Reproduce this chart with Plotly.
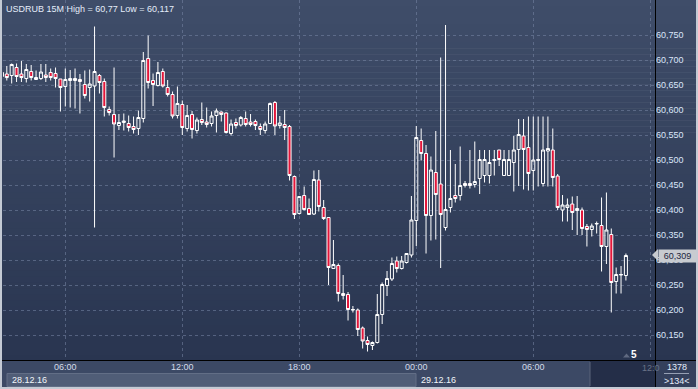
import plotly.graph_objects as go
import pandas as pd

# ---------------- data ----------------
times = pd.date_range("2016-12-28 02:45", periods=129, freq="15min")

opens = [60.675, 60.672, 60.669, 60.685, 60.672, 60.663, 60.677, 60.661, 60.663, 60.670,
         60.675, 60.673, 60.662, 60.647, 60.659, 60.659, 60.661, 60.651, 60.645, 60.648,
         60.669, 60.657, 60.601, 60.591, 60.569, 60.575, 60.573, 60.567, 60.563, 60.583,
         60.703, 60.659, 60.649, 60.677, 60.645, 60.631, 60.589, 60.611, 60.563, 60.591,
         60.559, 60.581, 60.576, 60.573, 60.589, 60.596, 60.594, 60.553, 60.575, 60.570,
         60.583, 60.576, 60.577, 60.567, 60.559, 60.573, 60.615, 60.569, 60.571, 60.567,
         60.467, 60.393, 60.429, 60.403, 60.392, 60.460, 60.405, 60.385, 60.283, 60.289,
         60.233, 60.231, 60.200, 60.200, 60.164, 60.139, 60.129, 60.135, 60.191, 60.249,
         60.262, 60.298, 60.283, 60.295, 60.310, 60.379, 60.539, 60.513, 60.389, 60.475,
         60.452, 60.365, 60.405, 60.429, 60.429, 60.453, 60.453, 60.451, 60.463, 60.469,
         60.469, 60.499, 60.520, 60.469, 60.469, 60.495, 60.521, 60.548, 60.525, 60.479,
         60.499, 60.453, 60.518, 60.520, 60.468, 60.400, 60.405, 60.412, 60.399, 60.400,
         60.367, 60.361, 60.372, 60.369, 60.327, 60.351, 60.257, 60.270, 60.269]
highs = [60.679, 60.688, 60.693, 60.693, 60.698, 60.692, 60.690, 60.679, 60.692, 60.692,
         60.683, 60.685, 60.662, 60.683, 60.680, 60.683, 60.672, 60.679, 60.681, 60.767,
         60.672, 60.663, 60.607, 60.685, 60.592, 60.593, 60.589, 60.587, 60.599, 60.716,
         60.749, 60.673, 60.696, 60.683, 60.660, 60.637, 60.647, 60.619, 60.610, 60.598,
         60.585, 60.615, 60.605, 60.597, 60.603, 60.597, 60.595, 60.581, 60.583, 60.588,
         60.597, 60.592, 60.581, 60.573, 60.577, 60.615, 60.618, 60.588, 60.600, 60.570,
         60.469, 60.427, 60.447, 60.423, 60.479, 60.480, 60.420, 60.385, 60.340, 60.293,
         60.270, 60.236, 60.208, 60.203, 60.167, 60.147, 60.137, 60.232, 60.255, 60.278,
         60.305, 60.307, 60.308, 60.313, 60.428, 60.568, 60.563, 60.530, 60.507, 60.558,
         60.705, 60.770, 60.520, 60.492, 60.527, 60.458, 60.520, 60.537, 60.520, 60.520,
         60.520, 60.520, 60.520, 60.520, 60.520, 60.548, 60.582, 60.582, 60.587, 60.587,
         60.587, 60.587, 60.587, 60.563, 60.472, 60.430, 60.423, 60.427, 60.428, 60.405,
         60.372, 60.373, 60.377, 60.425, 60.435, 60.363, 60.285, 60.288, 60.313]
lows = [60.664, 60.659, 60.653, 60.656, 60.656, 60.655, 60.659, 60.660, 60.660, 60.656,
        60.659, 60.645, 60.597, 60.607, 60.605, 60.603, 60.593, 60.623, 60.617, 60.365,
        60.633, 60.587, 60.589, 60.505, 60.560, 60.559, 60.557, 60.553, 60.550, 60.575,
        60.643, 60.608, 60.647, 60.645, 60.627, 60.583, 60.583, 60.550, 60.557, 60.543,
        60.553, 60.570, 60.565, 60.567, 60.555, 60.577, 60.553, 60.549, 60.563, 60.567,
        60.567, 60.567, 60.560, 60.550, 60.553, 60.572, 60.550, 60.563, 60.540, 60.459,
        60.382, 60.391, 60.399, 60.390, 60.390, 60.397, 60.380, 60.250, 60.283, 60.217,
        60.221, 60.179, 60.195, 60.148, 60.123, 60.117, 60.120, 60.133, 60.172, 60.228,
        60.258, 60.275, 60.281, 60.293, 60.305, 60.328, 60.499, 60.313, 60.339, 60.341,
        60.284, 60.359, 60.395, 60.415, 60.419, 60.445, 60.443, 60.445, 60.432, 60.455,
        60.453, 60.469, 60.488, 60.469, 60.469, 60.437, 60.448, 60.441, 60.439, 60.439,
        60.447, 60.447, 60.447, 60.447, 60.400, 60.377, 60.377, 60.360, 60.350, 60.350,
        60.327, 60.347, 60.353, 60.277, 60.292, 60.195, 60.233, 60.233, 60.259]
closes = [60.667, 60.665, 60.691, 60.667, 60.665, 60.681, 60.665, 60.665, 60.676, 60.665,
          60.665, 60.663, 60.645, 60.661, 60.663, 60.663, 60.657, 60.629, 60.652, 60.677,
          60.655, 60.605, 60.595, 60.572, 60.575, 60.578, 60.565, 60.561, 60.585, 60.699,
          60.655, 60.651, 60.675, 60.648, 60.631, 60.588, 60.613, 60.565, 60.589, 60.561,
          60.580, 60.575, 60.571, 60.588, 60.598, 60.591, 60.555, 60.572, 60.569, 60.585,
          60.571, 60.571, 60.569, 60.561, 60.572, 60.613, 60.568, 60.574, 60.565, 60.469,
          60.391, 60.427, 60.401, 60.391, 60.461, 60.407, 60.383, 60.285, 60.291, 60.233,
          60.229, 60.201, 60.201, 60.161, 60.138, 60.131, 60.135, 60.191, 60.251, 60.263,
          60.293, 60.283, 60.298, 60.313, 60.380, 60.545, 60.513, 60.389, 60.480, 60.431,
          60.391, 60.401, 60.423, 60.423, 60.449, 60.449, 60.449, 60.457, 60.501, 60.501,
          60.495, 60.501, 60.501, 60.501, 60.501, 60.520, 60.551, 60.521, 60.473, 60.500,
          60.501, 60.520, 60.523, 60.465, 60.405, 60.410, 60.410, 60.395, 60.403, 60.363,
          60.361, 60.368, 60.373, 60.327, 60.360, 60.255, 60.271, 60.271, 60.309]

price_ticks = [60.15, 60.20, 60.25, 60.30, 60.35, 60.40, 60.45, 60.50, 60.55, 60.60, 60.65, 60.70, 60.75]
time_ticks = ["2016-12-28 06:00", "2016-12-28 12:00", "2016-12-28 18:00",
              "2016-12-29 00:00", "2016-12-29 06:00", "2016-12-29 12:00"]
time_labels = ["06:00", "12:00", "18:00", "00:00", "06:00", ""]
title_text = "USDRUB 15M High = 60,77 Low = 60,117"
last_price = 60.309

# ---------------- layout helpers ----------------
W, H = 698, 389
L, R, T, B = 3, 655, 0, 360


def fx(p):
    return (p - L) / (R - L)


def fy(p):
    return (B - p) / (B - T)


FONT = "Liberation Sans, Arial, sans-serif"
shapes = []

# gradient background (plot + right strip)
N = 60
c0 = (63, 77, 105)
c1 = (41, 53, 80)
for i in range(N):
    y0 = i * 361 / N
    y1 = (i + 1) * 361 / N + 0.5
    t = (i + 0.5) / N
    col = tuple(round(c0[k] + (c1[k] - c0[k]) * t) for k in range(3))
    shapes.append(dict(type="rect", xref="paper", yref="paper", layer="below",
                       x0=fx(2), x1=fx(696), y0=fy(y0), y1=fy(y1),
                       fillcolor="rgb(%d,%d,%d)" % col, line=dict(width=0)))
# bottom strip
shapes.append(dict(type="rect", xref="paper", yref="paper", layer="below",
                   x0=fx(2), x1=fx(656), y0=fy(361), y1=fy(387),
                   fillcolor="rgb(60,73,101)", line=dict(width=0)))
shapes.append(dict(type="rect", xref="paper", yref="paper", layer="below",
                   x0=fx(7), x1=fx(416), y0=fy(373.5), y1=fy(386.5),
                   fillcolor="rgb(80,93,119)", line=dict(color="rgb(98,110,134)", width=1)))
shapes.append(dict(type="rect", xref="paper", yref="paper", layer="below",
                   x0=fx(590), x1=fx(655), y0=fy(361), y1=fy(387),
                   fillcolor="rgb(36,46,72)", line=dict(width=0)))
shapes.append(dict(type="line", xref="paper", yref="paper", layer="below",
                   x0=fx(590), x1=fx(590), y0=fy(362), y1=fy(386),
                   line=dict(color="rgb(90,100,122)", width=1)))
# right bottom box
shapes.append(dict(type="rect", xref="paper", yref="paper", layer="below",
                   x0=fx(656), x1=fx(696), y0=fy(361), y1=fy(387),
                   fillcolor="rgb(52,64,92)", line=dict(width=0)))
shapes.append(dict(type="line", xref="paper", yref="paper",
                   x0=fx(664), x1=fx(689), y0=fy(373.5), y1=fy(373.5),
                   line=dict(color="rgb(150,160,180)", width=1)))
# black frame lines
shapes.append(dict(type="line", xref="paper", yref="paper",
                   x0=fx(655.5), x1=fx(655.5), y0=fy(0), y1=fy(387),
                   line=dict(color="black", width=1)))
shapes.append(dict(type="line", xref="paper", yref="paper",
                   x0=fx(2), x1=fx(696), y0=fy(360.5), y1=fy(360.5),
                   line=dict(color="black", width=1)))
# price tag arrow
shapes.append(dict(type="path", xref="paper", yref="paper",
                   path="M %f %f L %f %f L %f %f Z" % (fx(652), fy(255), fx(658), fy(249), fx(658), fy(261)),
                   fillcolor="rgb(200,203,208)", line=dict(width=0)))
# small triangle near "5"
shapes.append(dict(type="path", xref="paper", yref="paper",
                   path="M %f %f L %f %f L %f %f Z" % (fx(623), fy(357.5), fx(630), fy(357.5), fx(626.5), fy(353.5)),
                   fillcolor="rgb(95,105,128)", line=dict(width=0)))

annotations = [
    dict(text=title_text, xref="paper", yref="paper", x=fx(4), y=fy(2),
         xanchor="left", yanchor="top", showarrow=False,
         font=dict(family=FONT, size=9, color="#e4ecfa")),
    dict(text="28.12.16", xref="paper", yref="paper", x=fx(10), y=fy(380),
         xanchor="left", yanchor="middle", showarrow=False,
         font=dict(family=FONT, size=9, color="#f2f5fa")),
    dict(text="29.12.16", xref="paper", yref="paper", x=fx(419), y=fy(380),
         xanchor="left", yanchor="middle", showarrow=False,
         font=dict(family=FONT, size=9, color="#f2f5fa")),
    dict(text="12:0", xref="paper", yref="paper", x=fx(639.5), y=fy(368),
         xanchor="left", yanchor="middle", showarrow=False,
         font=dict(family=FONT, size=9, color="rgb(105,115,135)")),
    dict(text="1378", xref="paper", yref="paper", x=fx(676.5), y=fy(367),
         xanchor="center", yanchor="middle", showarrow=False,
         font=dict(family=FONT, size=9, color="#e4ecfa")),
    dict(text=">134<", xref="paper", yref="paper", x=fx(676.5), y=fy(381),
         xanchor="center", yanchor="middle", showarrow=False,
         font=dict(family=FONT, size=9, color="#e4ecfa")),
    dict(text="<b>5</b>", xref="paper", yref="paper", x=fx(634), y=fy(354),
         xanchor="center", yanchor="middle", showarrow=False,
         font=dict(family=FONT, size=10, color="#ffffff")),
    dict(text="60,309", xref="paper", yref="y", x=fx(658), y=last_price,
         xanchor="left", yanchor="middle", showarrow=False,
         width=35, height=10, borderpad=1, bgcolor="rgb(200,203,208)",
         font=dict(family=FONT, size=9, color="#1c2640")),
]

fig = go.Figure(go.Candlestick(
    x=times, open=opens, high=highs, low=lows, close=closes,
    increasing=dict(line=dict(color="#ffffff", width=1), fillcolor="rgba(0,0,0,0)"),
    decreasing=dict(line=dict(color="#ffffff", width=1), fillcolor="#e3163a"),
    whiskerwidth=0, hoverinfo="skip", showlegend=False,
))

fig.update_layout(
    width=W, height=H,
    margin=dict(l=L, r=W - R, t=T, b=H - B),
    paper_bgcolor="rgb(196,202,212)",
    plot_bgcolor="rgba(0,0,0,0)",
    separators=",.",
    boxgap=0.38, boxgroupgap=0,
    showlegend=False,
    shapes=shapes,
    annotations=annotations,
    xaxis=dict(
        type="date", range=["2016-12-28 02:48:18", "2016-12-29 12:14:30"],
        rangeslider=dict(visible=False),
        tickvals=time_ticks, ticktext=time_labels,
        showgrid=True, gridcolor="rgba(120,135,165,0.55)", griddash="3px,3px", gridwidth=1,
        showline=False, zeroline=False, ticks="",
        tickfont=dict(family=FONT, size=9, color="#d4dcea"),
        fixedrange=True,
    ),
    yaxis=dict(
        side="right", range=[60.10, 60.82],
        tickvals=price_ticks, tickformat=".3f",
        showgrid=True, gridcolor="rgba(120,135,165,0.55)", griddash="3px,3px", gridwidth=1,
        showline=False, zeroline=False, ticks="",
        tickfont=dict(family=FONT, size=9, color="#dbe6fa"),
        fixedrange=True,
    ),
)

fig.write_html("out.html")
